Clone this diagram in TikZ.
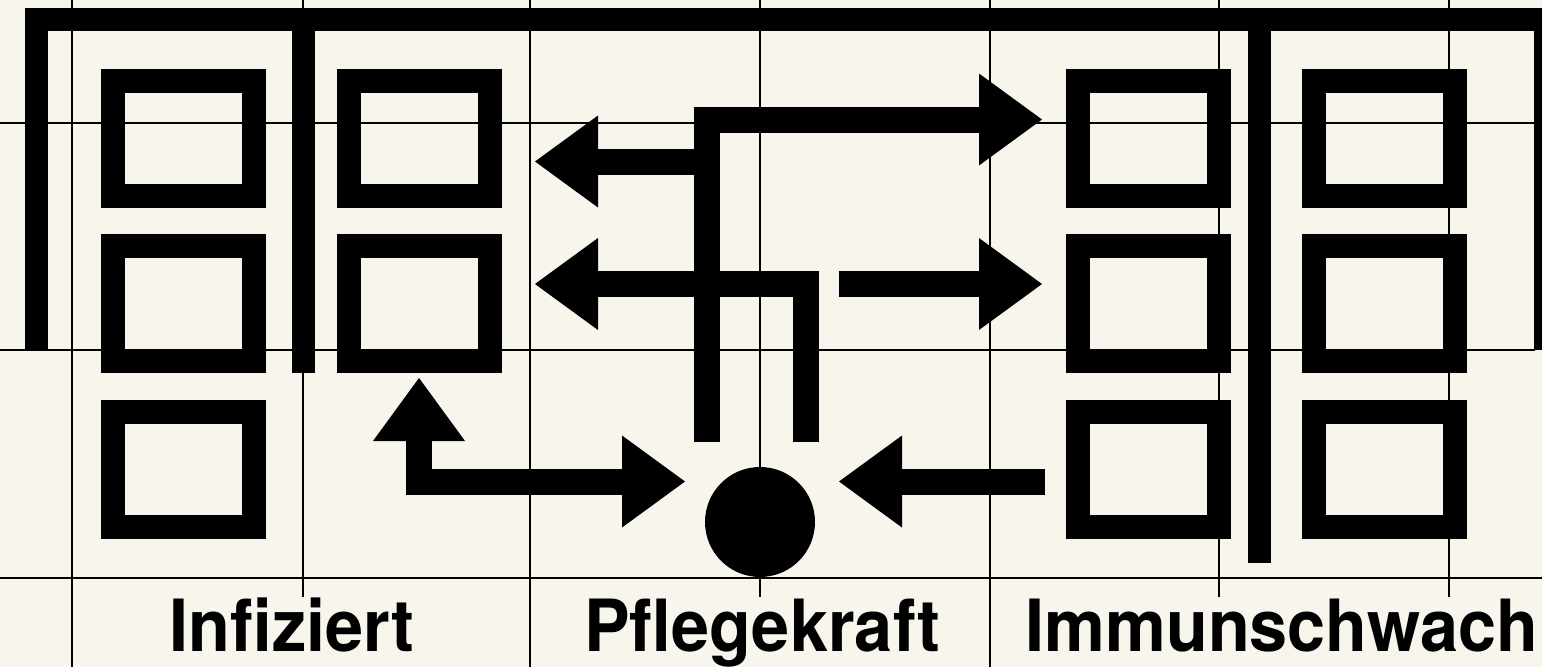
\documentclass[tikz,border=0pt]{standalone}
\usepackage{fontspec}
\setmainfont{TeX Gyre Heros}
\usetikzlibrary{arrows.meta}
\definecolor{paper}{RGB}{247,245,236}
\tikzset{
  gridline/.style={line width=2.5pt, black},
  bar/.style={line width=23pt, black},
  cell/.style={draw, line width=24pt, minimum width=141pt, minimum height=115pt, inner sep=0pt},
  tip/.tip={Triangle[length=63pt,width=92pt,line width=0pt]},
  arr/.style={line width=26pt, -tip},
  darr/.style={line width=26pt, tip-tip},
  hub/.style={circle, fill=black, minimum size=110pt, inner sep=0pt},
  lbl/.style={font=\bfseries\fontsize{72}{78}\selectfont, anchor=base, inner sep=0pt}
}
\begin{document}
\begin{tikzpicture}[x=1pt,y=-1pt,line join=miter]
\fill[paper] (0,0) rectangle (1542,667);
\useasboundingbox (0,0) rectangle (1542,667);
% grid
\draw[gridline] (0,123) -- (1535,123);
\draw[gridline] (0,350) -- (1535,350);
\draw[gridline] (0,578) -- (1542,578);
\draw[gridline] (72,0) -- (72,667);
\draw[gridline] (303,0) -- (303,597);
\draw[gridline] (530,0) -- (530,667);
\draw[gridline] (760,0) -- (760,597);
\draw[gridline] (990,0) -- (990,667);
\draw[gridline] (1219,0) -- (1219,597);
\draw[gridline] (1449,0) -- (1449,597);
% frame bars
\draw[bar] (36,350) -- (36,19.5) -- (1575,19.5);
\draw[bar] (303,19.5) -- (303,373);
\draw[bar] (1259.5,19.5) -- (1259.5,563);
\draw[bar] (1545,19.5) -- (1545,350);
% cells
\node[cell] (b11) at (183.5,138.5) {};
\node[cell] (b12) at (183.5,303.5) {};
\node[cell] (b13) at (183.5,469.5) {};
\node[cell] (b21) at (419,138.5) {};
\node[cell] (b22) at (419,303.5) {};
\node[cell] (b31) at (1148,138.5) {};
\node[cell] (b32) at (1148,303.5) {};
\node[cell] (b33) at (1148,469.5) {};
\node[cell] (b41) at (1384.5,138.5) {};
\node[cell] (b42) at (1384.5,303.5) {};
\node[cell] (b43) at (1384.5,469.5) {};
% hub
\node[hub] (pk) at (760,522) {};
% connector points
\coordinate (s1) at (707,442);
\coordinate (t1) at (1042,119.5);
\coordinate (s2) at (707,161.5);
\coordinate (t2) at (535,161.5);
\coordinate (s3) at (805.5,442);
\coordinate (t3) at (535,284);
\coordinate (s4) at (839,284);
\coordinate (t4) at (1042,284);
\coordinate (t5) at (419,378);
\coordinate (t6) at (685,481.5);
\coordinate (s7) at (1045,481.5);
\coordinate (t7) at (839,481.5);
% arrows
\draw[arr] (s1) |- (t1);
\draw[arr] (s2) -- (t2);
\draw[arr] (s3) |- (t3);
\draw[arr] (s4) -- (t4);
\draw[darr] (t5) |- (t6);
\draw[arr] (s7) -- (t7);
% labels
\node[lbl] (l1) at (292,651) {\scalebox{0.95}[1]{Infiziert}};
\node[lbl] (l2) at (762,651) {\scalebox{0.95}[1]{Pflegekraft}};
\node[lbl] (l3) at (1282,651) {\scalebox{0.95}[1]{Immunschwach}};
\end{tikzpicture}
\end{document}
